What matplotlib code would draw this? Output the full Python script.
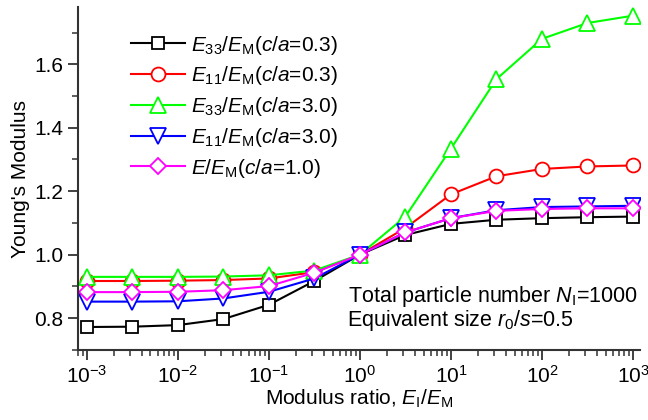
import numpy as np
import matplotlib
matplotlib.use('Agg')
import matplotlib.pyplot as plt
from matplotlib.ticker import FixedLocator, MultipleLocator, NullFormatter

plt.rcParams['font.family'] = 'Liberation Sans'
plt.rcParams['mathtext.fontset'] = 'custom'
plt.rcParams['mathtext.rm'] = 'Liberation Sans'
plt.rcParams['mathtext.it'] = 'Liberation Sans:italic'
plt.rcParams['font.size'] = 15

# modulus ratio E_I/E_M (half decade steps)
ratio = [1e-3, 3.16e-3, 1e-2, 3.16e-2, 1e-1, 3.16e-1, 1, 3.16, 10, 31.6, 100, 316, 1000]

e33_03 = [0.772, 0.773, 0.778, 0.797, 0.842, 0.917, 1.0, 1.062, 1.097, 1.110, 1.115, 1.118, 1.120]
e11_03 = [0.917, 0.917, 0.918, 0.920, 0.925, 0.945, 1.0, 1.084, 1.190, 1.247, 1.270, 1.278, 1.281]
e33_30 = [0.930, 0.930, 0.930, 0.931, 0.935, 0.950, 1.0, 1.120, 1.334, 1.553, 1.680, 1.730, 1.753]
e11_30 = [0.852, 0.852, 0.853, 0.862, 0.883, 0.925, 1.0, 1.070, 1.115, 1.140, 1.150, 1.152, 1.154]
e_10 = [0.882, 0.882, 0.883, 0.888, 0.901, 0.943, 1.0, 1.070, 1.115, 1.138, 1.144, 1.146, 1.146]

series = [
    (e33_03, 'black', 's', r'$E_{33}/E_\mathrm{M}$($c$/$a$=0.3)'),
    (e11_03, 'red', 'o', r'$E_{11}/E_\mathrm{M}$($c$/$a$=0.3)'),
    (e33_30, '#00ff00', '^', r'$E_{33}/E_\mathrm{M}$($c$/$a$=3.0)'),
    (e11_30, 'blue', 'v', r'$E_{11}/E_\mathrm{M}$($c$/$a$=3.0)'),
    (e_10, 'magenta', 'D', r'$E/E_\mathrm{M}$($c$/$a$=1.0)'),
]
msizes = {'s': 9, 'o': 10, '^': 11, 'v': 11, 'D': 8}

fig = plt.figure(figsize=(6.48, 4.2), dpi=100)
ax = fig.add_axes([0.120, 0.167, 0.868, 0.816])

for vals, col, mk, lab in series:
    ax.plot(ratio, vals, color=col, marker=mk, ms=msizes[mk], mfc='white',
            mec=col, mew=1.3, lw=1.5, label=lab)

ax.set_xscale('log')
ax.set_xlim(10**-3.1, 10**3.08)
ax.set_ylim(0.70, 1.78)
ax.yaxis.set_major_locator(MultipleLocator(0.2))
ax.yaxis.set_minor_locator(MultipleLocator(0.1))
decades = 10.0 ** np.arange(-3, 4)
ax.xaxis.set_major_locator(FixedLocator(decades))
minors = [d * k for d in 10.0 ** np.arange(-4, 3) for k in range(2, 10)]
minors = [m for m in minors if 10**-3.1 <= m <= 10**3.08]
ax.xaxis.set_minor_locator(FixedLocator(minors))
ax.xaxis.set_minor_formatter(NullFormatter())
ax.set_yticks([0.8, 1.0, 1.2, 1.4, 1.6])
ax.set_yticklabels(['0.8', '1.0', '1.2', '1.4', '1.6'])

for s in ['top', 'right']:
    ax.spines[s].set_visible(False)
for s in ['left', 'bottom']:
    ax.spines[s].set_linewidth(1.5)
    ax.spines[s].set_color('#333333')
ax.tick_params(which='major', direction='out', length=7, width=1.3, color='#333333')
ax.tick_params(which='minor', direction='out', length=4, width=1.1, color='#333333')

ax.set_xlabel(r'Modulus ratio, $E_\mathrm{I}/E_\mathrm{M}$', labelpad=1)
ax.set_ylabel("Young's Modulus", labelpad=3)

ax.legend(loc='upper left', bbox_to_anchor=(0.068, 0.965), frameon=False,
          handlelength=2.6, handletextpad=0.3, labelspacing=0.37, borderaxespad=0.3)

ax.text(0.995, 0.155, r'Total particle number $N_\mathrm{I}$=1000', transform=ax.transAxes,
        ha='right', va='center', fontsize=15.5)
ax.text(0.478, 0.087, r'Equivalent size $r_0$/$s$=0.5', transform=ax.transAxes,
        ha='left', va='center', fontsize=15.5)

fig.savefig('out.png', dpi=100)
